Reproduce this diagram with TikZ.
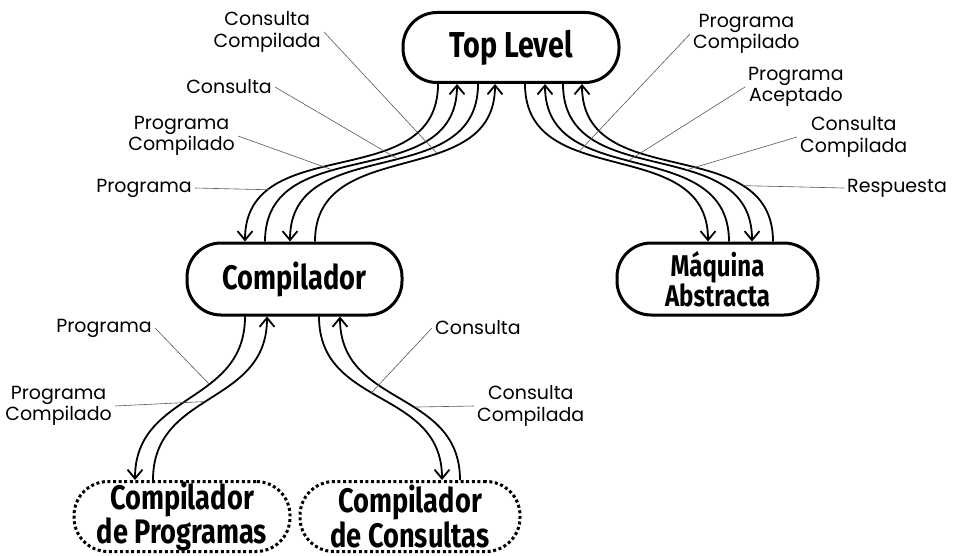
\documentclass[tikz,border=0pt]{standalone}
\usepackage{fontspec}
\setmainfont{Poppins}
\newfontfamily\boxfont[FakeStretch=0.8]{Fira Sans}
\usetikzlibrary{arrows.meta}

\begin{document}
\begin{tikzpicture}[x=1pt,y=1pt,
    box/.style={draw,line width=3pt,rounded corners=34pt,minimum width=216pt,minimum height=70pt,
                align=center,inner sep=0pt,font=\boxfont\bfseries\fontsize{34}{32}\selectfont},
    dotbox/.style={box,dash pattern=on 3pt off 2.6pt},
    arr/.style={-{Straight Barb[length=9pt,width=15pt]},line width=1.8pt},
    fall/.style={out=-90,in=90,looseness=1.15},
    rise/.style={out=90,in=-90,looseness=1.15},
    lbl/.style={font=\fontsize{19}{21.5}\selectfont,align=center,inner sep=3pt},
    tag/.style={gray!70!black,line width=.6pt}]
    \useasboundingbox[fill=white] (0,0) rectangle (960,555);

    \node[box,font=\boxfont\bfseries\fontsize{36}{32}\selectfont] (top) at (511,507.5) {Top Level};
    \node[box,minimum width=215pt,minimum height=72pt] (comp) at (294.5,276) {Compilador};
    \node[box,minimum width=201pt,minimum height=72pt,
          font=\boxfont\bfseries\fontsize{30}{27}\selectfont] (maq) at (717.5,276) {Máquina\\Abstracta};
    \node[dotbox] (cprog) at (182,38.5) {Compilador\\de Programas};
    \node[dotbox,minimum width=220pt] (ccons) at (410,38.5) {Compilador\\de Consultas};

    % Top Level <-> Compilador
    \draw[arr] ([xshift=-73pt]top.south) to[fall] coordinate[pos=.78] (p1) ([xshift=-49.5pt]comp.north);
    \draw[arr] ([xshift=-29.5pt]comp.north) to[rise] coordinate[pos=.4] (p2) ([xshift=-54pt]top.south);
    \draw[arr] ([xshift=-33pt]top.south) to[fall] coordinate[pos=.45] (p3) ([xshift=-4.5pt]comp.north);
    \draw[arr] ([xshift=20.5pt]comp.north) to[rise] coordinate[pos=.62] (p4) ([xshift=-16pt]top.south);

    % Top Level <-> Maquina Abstracta
    \draw[arr] ([xshift=14pt]top.south) to[fall] coordinate[pos=.36] (p5) ([xshift=-9.5pt]maq.north);
    \draw[arr] ([xshift=11.5pt]maq.north) to[rise] coordinate[pos=.53] (p6) ([xshift=34pt]top.south);
    \draw[arr] ([xshift=52pt]top.south) to[fall] coordinate[pos=.6] (p7) ([xshift=34.5pt]maq.north);
    \draw[arr] ([xshift=55.5pt]maq.north) to[rise] coordinate[pos=.25] (p8) ([xshift=71pt]top.south);

    % Compilador <-> subcompiladores
    \draw[arr] ([xshift=-49.5pt]comp.south) to[fall] coordinate[pos=.38] (p9) ([xshift=-47pt]cprog.north);
    \draw[arr] ([xshift=-29pt]cprog.north) to[rise] coordinate[pos=.47] (p10) ([xshift=-27.5pt]comp.south);
    \draw[arr] ([xshift=24.5pt]comp.south) to[fall] coordinate[pos=.45] (p11) ([xshift=32pt]ccons.north);
    \draw[arr] ([xshift=50pt]ccons.north) to[rise] coordinate[pos=.42] (p12) ([xshift=45.5pt]comp.south);

    \node[lbl,anchor=east] (l1) at (195,367) {Programa};
    \node[lbl,anchor=east] (l2) at (238,419) {Programa\\Compilado};
    \node[lbl,anchor=east] (l3) at (275,468) {Consulta};
    \node[lbl,anchor=east] (l4) at (324,523) {Consulta\\Compilada};
    \node[lbl,anchor=west] (l5) at (690,521) {Programa\\Compilado};
    \node[lbl,anchor=west] (l6) at (745,468) {Programa\\Aceptado};
    \node[lbl,anchor=west] (l7) at (797,418) {Consulta\\Compilada};
    \node[lbl,anchor=west] (l8) at (844,367) {Respuesta};
    \node[lbl,anchor=east] (l9) at (155,227) {Programa};
    \node[lbl,anchor=east] (l10) at (115,149) {Programa\\Compilado};
    \node[lbl,anchor=west] (l11) at (432,227) {Consulta};
    \node[lbl,anchor=west] (l12) at (474,149) {Consulta\\Compilada};

    \draw[tag] (l1.east) -- (p1);
    \draw[tag] (l2.east) -- (p2);
    \draw[tag] (l3.east) -- (p3);
    \draw[tag] (l4.east) -- (p4);
    \draw[tag] (l5.west) -- (p5);
    \draw[tag] (l6.west) -- (p6);
    \draw[tag] (l7.west) -- (p7);
    \draw[tag] (l8.west) -- (p8);
    \draw[tag] (l9.east) -- (p9);
    \draw[tag] (l10.east) -- (p10);
    \draw[tag] (l11.west) -- (p11);
    \draw[tag] (l12.west) -- (p12);
  \end{tikzpicture}
\end{document}
